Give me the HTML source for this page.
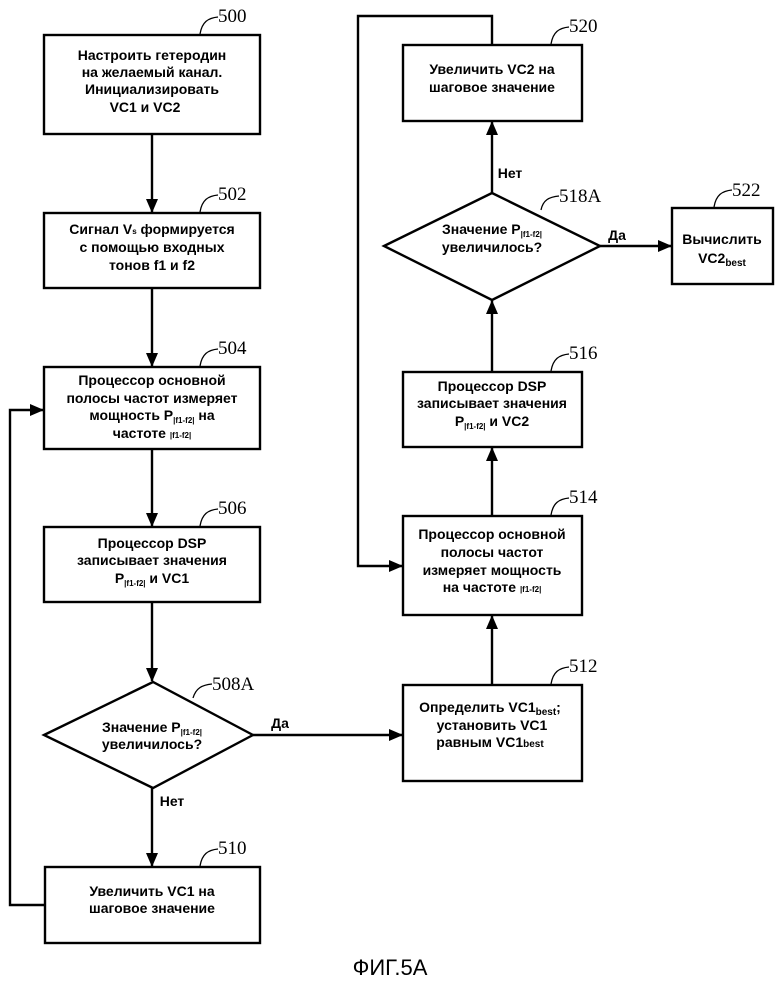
<!DOCTYPE html>
<html><head><meta charset="utf-8"><style>
html,body{margin:0;padding:0;background:#fff}
svg{display:block}
.t{font-family:"Liberation Sans",sans-serif;font-weight:bold;font-size:14px;text-anchor:middle;fill:#000}
.n{font-family:"Liberation Serif",serif;font-size:19px;fill:#000}
.s{font-size:8px}
</style></head><body>
<svg width="780" height="982" viewBox="0 0 780 982" xmlns="http://www.w3.org/2000/svg">
<defs>
<marker id="b" markerWidth="14" markerHeight="14" refX="13" refY="6" orient="auto" markerUnits="userSpaceOnUse"><path d="M0,0 L14,6 L0,12 z" fill="#000"/></marker></defs>
<g fill="none" stroke="#000" stroke-width="2.4">
<rect x="44" y="35" width="216" height="99"/>
<rect x="44" y="213" width="216" height="75"/>
<rect x="44" y="367" width="216" height="82"/>
<rect x="44" y="527" width="216" height="75"/>
<polygon points="44,735 153,682 253,735 153,788"/>
<rect x="45" y="867" width="215" height="76"/>
<rect x="403" y="45" width="179" height="76"/>
<polygon points="384,246 492,193 600,246 492,300"/>
<rect x="672" y="208" width="101" height="76"/>
<rect x="403" y="372" width="179" height="75"/>
<rect x="403" y="516" width="179" height="99"/>
<rect x="403" y="685" width="179" height="96"/>
<g marker-end="url(#b)">
<line x1="152" y1="134" x2="152" y2="212"/>
<line x1="152" y1="288" x2="152" y2="366"/>
<line x1="152" y1="449" x2="152" y2="526"/>
<line x1="152" y1="602" x2="152" y2="681"/>
<line x1="152" y1="788" x2="152" y2="866"/>
<polyline points="45,905 10,905 10,410 43,410"/>
<line x1="253" y1="735" x2="402" y2="735"/>
<line x1="492" y1="685" x2="492" y2="616"/>
<line x1="492" y1="516" x2="492" y2="448"/>
<line x1="492" y1="372" x2="492" y2="301"/>
<line x1="492" y1="193" x2="492" y2="122"/>
<line x1="600" y1="246" x2="671" y2="246"/>
<polyline points="492,45 492,16 358,16 358,566 402,566"/>
</g>
<g stroke-width="1.3">
<path d="M200,34 C202,22 208,18 218,17"/>
<path d="M200,212 C202,200 208,196 218,195"/>
<path d="M200,366 C202,354 208,350 218,349"/>
<path d="M200,526 C202,514 208,510 218,509"/>
<path d="M193,698 C196,688 202,685 212,684"/>
<path d="M200,866 C202,854 208,850 218,849"/>
<path d="M551,44 C553,32 559,28 569,27"/>
<path d="M541,210 C543,200 549,197 559,196"/>
<path d="M714,207 C716,195 722,191 732,190"/>
<path d="M551,371 C553,359 559,355 569,354"/>
<path d="M551,515 C553,503 559,499 569,498"/>
<path d="M551,684 C553,672 559,668 569,667"/>
</g>
</g>
<text class="n" x="218" y="22">500</text>
<text class="n" x="218" y="200">502</text>
<text class="n" x="218" y="354">504</text>
<text class="n" x="218" y="514">506</text>
<text class="n" x="212" y="690">508A</text>
<text class="n" x="218" y="854">510</text>
<text class="n" x="569" y="32">520</text>
<text class="n" x="559" y="202">518A</text>
<text class="n" x="732" y="196">522</text>
<text class="n" x="569" y="359">516</text>
<text class="n" x="569" y="503">514</text>
<text class="n" x="569" y="672">512</text>
<g class="t">
<text x="152" y="60">Настроить гетеродин</text>
<text x="152" y="77">на желаемый канал.</text>
<text x="152" y="94">Инициализировать</text>
<text x="145" y="112">VC1 и VC2</text>
<text x="152" y="234">Сигнал V<tspan class="s">s</tspan> формируется</text>
<text x="152" y="252">с помощью входных</text>
<text x="152" y="270">тонов f1 и f2</text>
<text x="152" y="385">Процессор основной</text>
<text x="152" y="403">полосы частот измеряет</text>
<text x="152" y="420">мощность P<tspan class="s" dy="3">|f1-f2|</tspan><tspan dy="-3"> на</tspan></text>
<text x="152" y="438">частоте <tspan class="s">|f1-f2|</tspan></text>
<text x="152" y="548">Процессор DSP</text>
<text x="152" y="565">записывает значения</text>
<text x="152" y="583">P<tspan class="s" dy="3">|f1-f2|</tspan><tspan dy="-3"> и VC1</tspan></text>
<text x="152" y="732">Значение  P<tspan class="s" dy="3">|f1-f2|</tspan></text>
<text x="152" y="749">увеличилось?</text>
<text x="280" y="728">Да</text>
<text x="172" y="806">Нет</text>
<text x="152" y="896">Увеличить VC1 на</text>
<text x="152" y="913">шаговое значение</text>
<text x="492" y="74">Увеличить VC2 на</text>
<text x="492" y="92">шаговое значение</text>
<text x="510" y="178">Нет</text>
<text x="492" y="234">Значение  P<tspan class="s" dy="3">|f1-f2|</tspan></text>
<text x="492" y="252">увеличилось?</text>
<text x="617" y="240">Да</text>
<text x="722" y="244">Вычислить</text>
<text x="722" y="263">VC2<tspan class="s" style="font-size:10px" dy="3">best</tspan></text>
<text x="492" y="391">Процессор DSP</text>
<text x="492" y="408">записывает значения</text>
<text x="492" y="426">P<tspan class="s" dy="3">|f1-f2|</tspan><tspan dy="-3">  и VC2</tspan></text>
<text x="492" y="539">Процессор основной</text>
<text x="492" y="557">полосы частот</text>
<text x="492" y="575">измеряет мощность</text>
<text x="492" y="592">на частоте <tspan class="s">|f1-f2|</tspan></text>
<text x="490" y="712">Определить VC1<tspan class="s" style="font-size:10px" dy="3">best</tspan><tspan dy="-3">;</tspan></text>
<text x="492" y="730">установить VC1</text>
<text x="490" y="747">равным VC1<tspan class="s" style="font-size:10px">best</tspan></text>
</g>
<text x="390" y="975" style="font-family:'Liberation Sans',sans-serif;font-size:22px;text-anchor:middle">ФИГ.5А</text>
</svg>
</body></html>
